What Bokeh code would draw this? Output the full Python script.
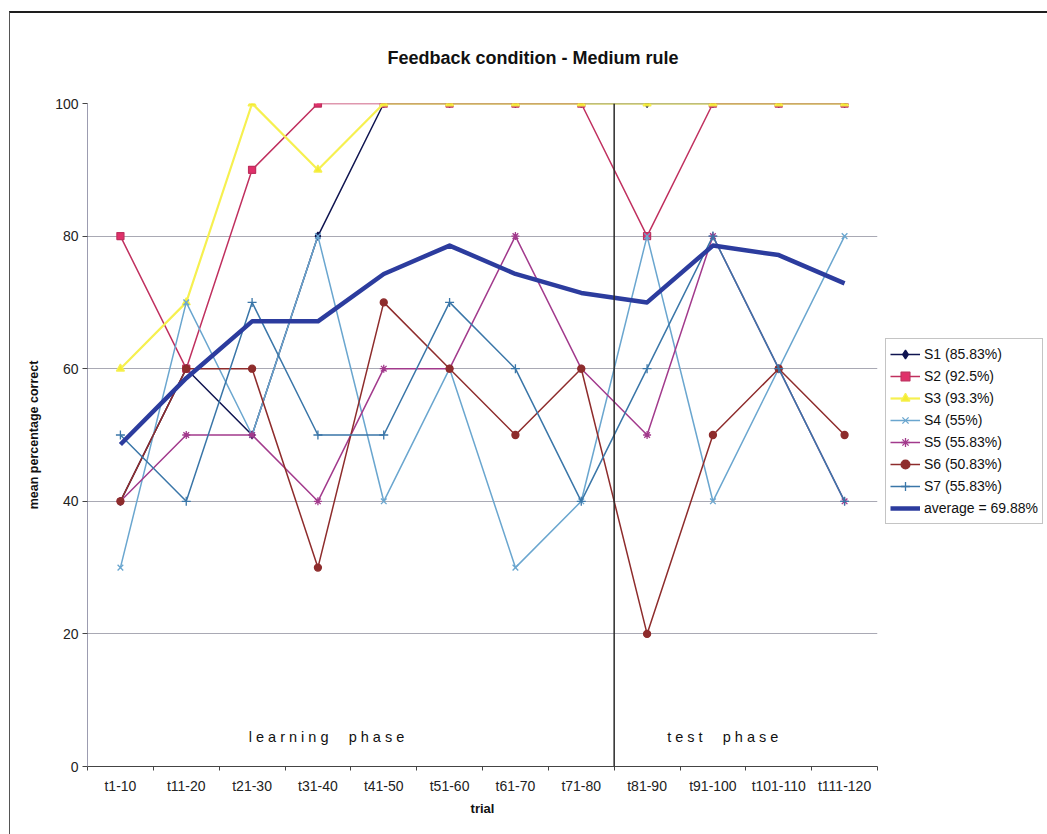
from bokeh.plotting import figure
from bokeh.models import Range1d, FixedTicker, Span, Legend, LegendItem
from bokeh.core.properties import value
from bokeh.embed import file_html
from bokeh.resources import INLINE

# ---------------- data ----------------
categories = ["t1-10", "t11-20", "t21-30", "t31-40", "t41-50", "t51-60",
              "t61-70", "t71-80", "t81-90", "t91-100", "t101-110", "t111-120"]
y_ticks = [0, 20, 40, 60, 80, 100]

s1 = [40, 60, 50, 80, 100, 100, 100, 100, 100, 100, 100, 100]
s2 = [80, 60, 90, 100, 100, 100, 100, 100, 80, 100, 100, 100]
s3 = [60, 70, 100, 90, 100, 100, 100, 100, 100, 100, 100, 100]
s4 = [30, 70, 50, 80, 40, 60, 30, 40, 80, 40, 60, 80]
s5 = [40, 50, 50, 40, 60, 60, 80, 60, 50, 80, 60, 40]
s6 = [40, 60, 60, 30, 70, 60, 50, 60, 20, 50, 60, 50]
s7 = [50, 40, 70, 50, 50, 70, 60, 40, 60, 80, 60, 40]
average = [48.57, 58.57, 67.14, 67.14, 74.29, 78.57, 74.29, 71.43, 70.0, 78.57, 77.14, 72.86]

series_labels = ["S1 (85.83%)", "S2 (92.5%)", "S3 (93.3%)", "S4 (55%)",
                 "S5 (55.83%)", "S6 (50.83%)", "S7 (55.83%)"]
average_label = "average = 69.88%"
title_text = "Feedback condition - Medium rule"
x_title = "trial"
y_title = "mean percentage correct"
phase_labels = ["l e a r n i n g \u00a0 \u00a0 p h a s e", "t e s t \u00a0 \u00a0 p h a s e"]
test_start = "t81-90"

# ---------------- styles ----------------
FONT = "Liberation Sans"
styles = [
    dict(color="#0f1450", marker="diamond", size=8, fill="#0f1450", width=1.5),
    dict(color="#c0305f", marker="square", size=7, fill="#e0306a", width=1.5),
    dict(color="#f6f050", marker="triangle", size=8, fill="#f4ec30", width=2.2),
    dict(color="#6aa6cf", marker="x", size=8, fill="#6aa6cf", width=1.5),
    dict(color="#a23a8c", marker="asterisk", size=8, fill="#a23a8c", width=1.5),
    dict(color="#8e2c2c", marker="circle", size=7, fill="#8e2c2c", width=1.5),
    dict(color="#3a76a8", marker="cross", size=9, fill="#3a76a8", width=1.5),
]

n = len(categories)
xs = [i + 0.5 for i in range(n)]

p = figure(frame_width=790, frame_height=663,
           x_range=Range1d(0, n), y_range=Range1d(0, 100),
           output_backend="svg", toolbar_location=None,
           min_border_left=77, min_border_right=170,
           min_border_top=90, min_border_bottom=68,
           background_fill_color="white", border_fill_color="white")
p.margin = (11, 0, 0, 9)
p.styles = {"border-top": "2px solid #1e1e1e", "border-left": "1px solid #555555"}
p.outline_line_color = None

# title
p.title.text = title_text
p.title.text_font = FONT
p.title.text_font_size = "18px"
p.title.text_font_style = "bold"
p.title.text_color = "#111111"
p.title.align = "left"
p.title.offset = 300
p.title.vertical_align = "top"
p.title.standoff = 67

# grid
p.xgrid.grid_line_color = None
p.ygrid.ticker = FixedTicker(ticks=y_ticks)
p.ygrid.grid_line_color = "#a9a9b4"
p.ygrid.grid_line_width = 1

# y axis
p.yaxis.ticker = FixedTicker(ticks=y_ticks)
p.yaxis.axis_line_color = "#9c9cb0"
p.yaxis.major_tick_out = 5
p.yaxis.major_tick_in = 0
p.yaxis.minor_tick_out = 0
p.yaxis.minor_tick_in = 0
p.yaxis.major_tick_line_color = "#444444"
p.yaxis.major_label_text_font = FONT
p.yaxis.major_label_text_font_size = "14px"
p.yaxis.major_label_text_color = "#222222"
p.yaxis.major_label_standoff = 4
p.yaxis.axis_label = y_title
p.yaxis.axis_label_text_font = FONT
p.yaxis.axis_label_text_font_size = "12.5px"
p.yaxis.axis_label_text_font_style = "bold"
p.yaxis.axis_label_text_color = "#111111"
p.yaxis.axis_label_standoff = 11

# x axis
p.xaxis.ticker = FixedTicker(ticks=xs, minor_ticks=list(range(n + 1)))
p.xaxis.major_label_overrides = {x: c for x, c in zip(xs, categories)}
p.xaxis.axis_line_color = "#444444"
p.xaxis.major_tick_out = 0
p.xaxis.major_tick_in = 0
p.xaxis.minor_tick_out = 4
p.xaxis.minor_tick_in = 0
p.xaxis.minor_tick_line_color = "#444444"
p.xaxis.major_label_text_font = FONT
p.xaxis.major_label_text_font_size = "14px"
p.xaxis.major_label_text_color = "#222222"
p.xaxis.major_label_standoff = 7
p.xaxis.axis_label = x_title
p.xaxis.axis_label_text_font = FONT
p.xaxis.axis_label_text_font_size = "13px"
p.xaxis.axis_label_text_font_style = "bold"
p.xaxis.axis_label_text_color = "#111111"
p.xaxis.axis_label_standoff = 4

# phase divider
p.add_layout(Span(location=categories.index(test_start), dimension="height",
                  line_color="#2a2a2a", line_width=1.5))

# phase labels
p.text(x=[3.63, 9.65], y=[4.5, 4.5], text=phase_labels,
       text_align="center", text_baseline="middle",
       text_font=value(FONT), text_font_size="14.5px", text_color="#111111")

# series
items = []
for data, label, st in zip([s1, s2, s3, s4, s5, s6, s7], series_labels, styles):
    lr = p.line(xs, data, line_color=st["color"], line_width=st["width"])
    sr = p.scatter(xs, data, marker=st["marker"], size=st["size"],
                   fill_color=st["fill"], line_color=st["color"], line_width=1.3)
    items.append(LegendItem(label=label, renderers=[lr, sr]))

ar = p.line(xs, average, line_color="#2c3c9e", line_width=4.5, line_join="round")
items.append(LegendItem(label=average_label, renderers=[ar]))

legend = Legend(items=items, location=(8, 242))
legend.margin = 8
legend.padding = 4
legend.spacing = 0
legend.glyph_width = 30
legend.glyph_height = 22
legend.label_standoff = 4
legend.label_height = 22
legend.label_text_font = FONT
legend.label_text_font_size = "14px"
legend.label_text_color = "#111111"
legend.border_line_color = "#8a8a8a"
legend.border_line_width = 1
legend.background_fill_color = "white"
p.add_layout(legend, "right")

open("out.html", "w").write(file_html(p, INLINE))
